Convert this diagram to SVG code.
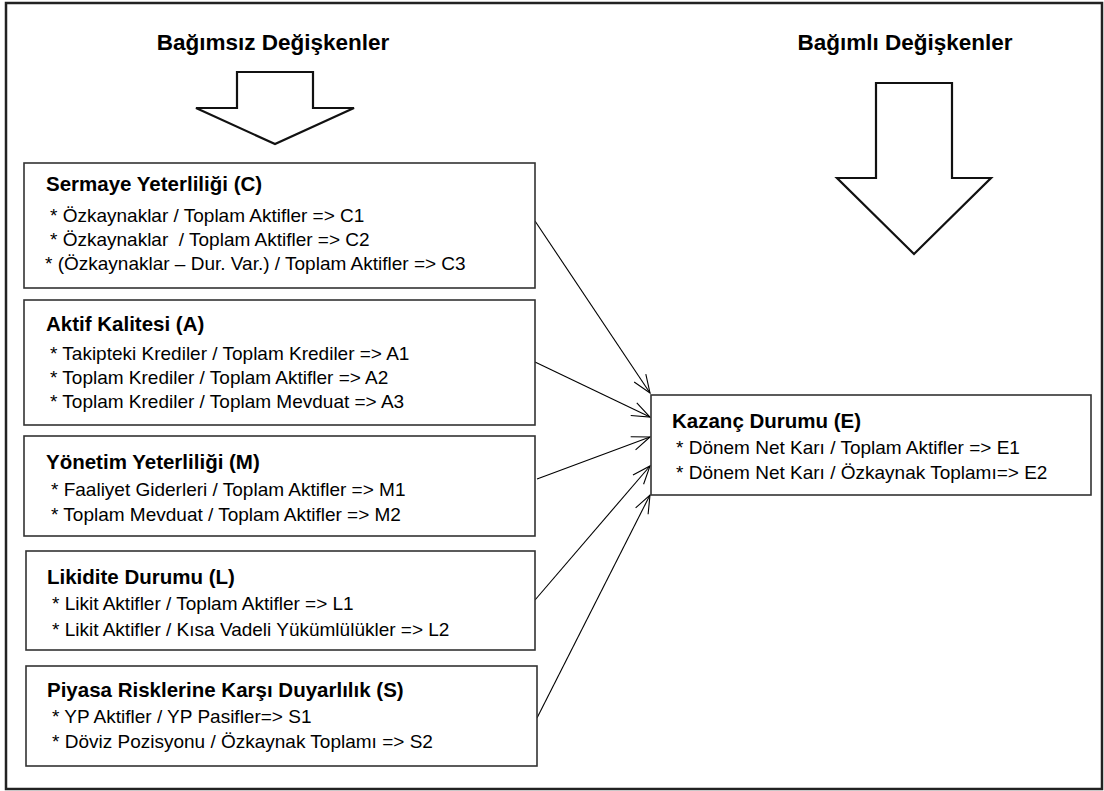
<svg xmlns="http://www.w3.org/2000/svg" width="1104" height="791" viewBox="0 0 1104 791">
<style>
  .frame { fill: #fff; stroke: #222; stroke-width: 2.5; }
  .box { fill: #fff; stroke: #333; stroke-width: 1.6; }
  .big { fill: #fff; stroke: #111; stroke-width: 2.2; stroke-linejoin: miter; }
  .hdr { font-family: "Liberation Sans", Arial, sans-serif; font-weight: bold; font-size: 22.5px; fill: #000; text-anchor: middle; }
  .ttl { font-family: "Liberation Sans", Arial, sans-serif; font-weight: bold; font-size: 20.5px; fill: #000; }
  .txt { font-family: "Liberation Sans", Arial, sans-serif; font-size: 19px; fill: #000; }
  .conn { stroke: #000; stroke-width: 1.1; fill: none; marker-end: url(#open); }
</style>
<defs>
  <marker id="open" markerUnits="userSpaceOnUse" markerWidth="22" markerHeight="18" refX="19" refY="8" orient="auto">
    <path d="M1,1 L19,8 L1,15" fill="none" stroke="#000" stroke-width="1.1"/>
  </marker>
</defs>
<rect x="0" y="0" width="1104" height="791" fill="#fff"/>
<rect class="frame" x="6" y="3" width="1096" height="786"/>

<g id="header-left">
  <text class="hdr" x="273" y="50">Bağımsız Değişkenler</text>
  <polygon class="big" points="237,72 313,72 313,108 354,108 275,144 196,108 237,108"/>
</g>
<g id="header-right">
  <text class="hdr" x="905" y="50">Bağımlı Değişkenler</text>
  <polygon class="big" points="876,83 952,83 952,178 991,178 914,254 837,178 876,178"/>
</g>

<g id="connectors">
  <line class="conn" x1="535" y1="221" x2="650" y2="393"/>
  <line class="conn" x1="535" y1="362" x2="650" y2="417"/>
  <line class="conn" x1="537" y1="479" x2="650" y2="437"/>
  <line class="conn" x1="535" y1="600" x2="650" y2="466"/>
  <line class="conn" x1="537" y1="718" x2="650" y2="495"/>
</g>

<g id="node-C">
  <rect class="box" x="24" y="163" width="511" height="125"/>
  <text class="ttl" x="46" y="191">Sermaye Yeterliliği (C)</text>
  <text class="txt" x="50" y="222">* Özkaynaklar / Toplam Aktifler =&gt; C1</text>
  <text class="txt" x="50" y="246" xml:space="preserve">* Özkaynaklar  / Toplam Aktifler =&gt; C2</text>
  <text class="txt" x="45" y="270">* (Özkaynaklar – Dur. Var.) / Toplam Aktifler =&gt; C3</text>
</g>

<g id="node-A">
  <rect class="box" x="24" y="300" width="511" height="125"/>
  <text class="ttl" x="46" y="331">Aktif Kalitesi (A)</text>
  <text class="txt" x="50" y="360">* Takipteki Krediler / Toplam Krediler =&gt; A1</text>
  <text class="txt" x="50" y="384">* Toplam Krediler / Toplam Aktifler =&gt; A2</text>
  <text class="txt" x="50" y="408">* Toplam Krediler / Toplam Mevduat =&gt; A3</text>
</g>

<g id="node-M">
  <rect class="box" x="24" y="436" width="511" height="100"/>
  <text class="ttl" x="46" y="469">Yönetim Yeterliliği (M)</text>
  <text class="txt" x="51" y="496">* Faaliyet Giderleri / Toplam Aktifler =&gt; M1</text>
  <text class="txt" x="51" y="521">* Toplam Mevduat / Toplam Aktifler =&gt; M2</text>
</g>

<g id="node-L">
  <rect class="box" x="26" y="551" width="509" height="99"/>
  <text class="ttl" x="47" y="584">Likidite Durumu (L)</text>
  <text class="txt" x="52" y="610">* Likit Aktifler / Toplam Aktifler =&gt; L1</text>
  <text class="txt" x="52" y="636">* Likit Aktifler / Kısa Vadeli Yükümlülükler =&gt; L2</text>
</g>

<g id="node-S">
  <rect class="box" x="26" y="666" width="511" height="100"/>
  <text class="ttl" x="47" y="697">Piyasa Risklerine Karşı Duyarlılık (S)</text>
  <text class="txt" x="52" y="723">* YP Aktifler / YP Pasifler=&gt; S1</text>
  <text class="txt" x="52" y="748">* Döviz Pozisyonu / Özkaynak Toplamı =&gt; S2</text>
</g>

<g id="node-E">
  <rect class="box" x="651" y="395" width="440" height="100"/>
  <text class="ttl" x="672" y="428">Kazanç Durumu (E)</text>
  <text class="txt" x="676" y="454">* Dönem Net Karı / Toplam Aktifler =&gt; E1</text>
  <text class="txt" x="676" y="479">* Dönem Net Karı / Özkaynak Toplamı=&gt; E2</text>
</g>
</svg>
